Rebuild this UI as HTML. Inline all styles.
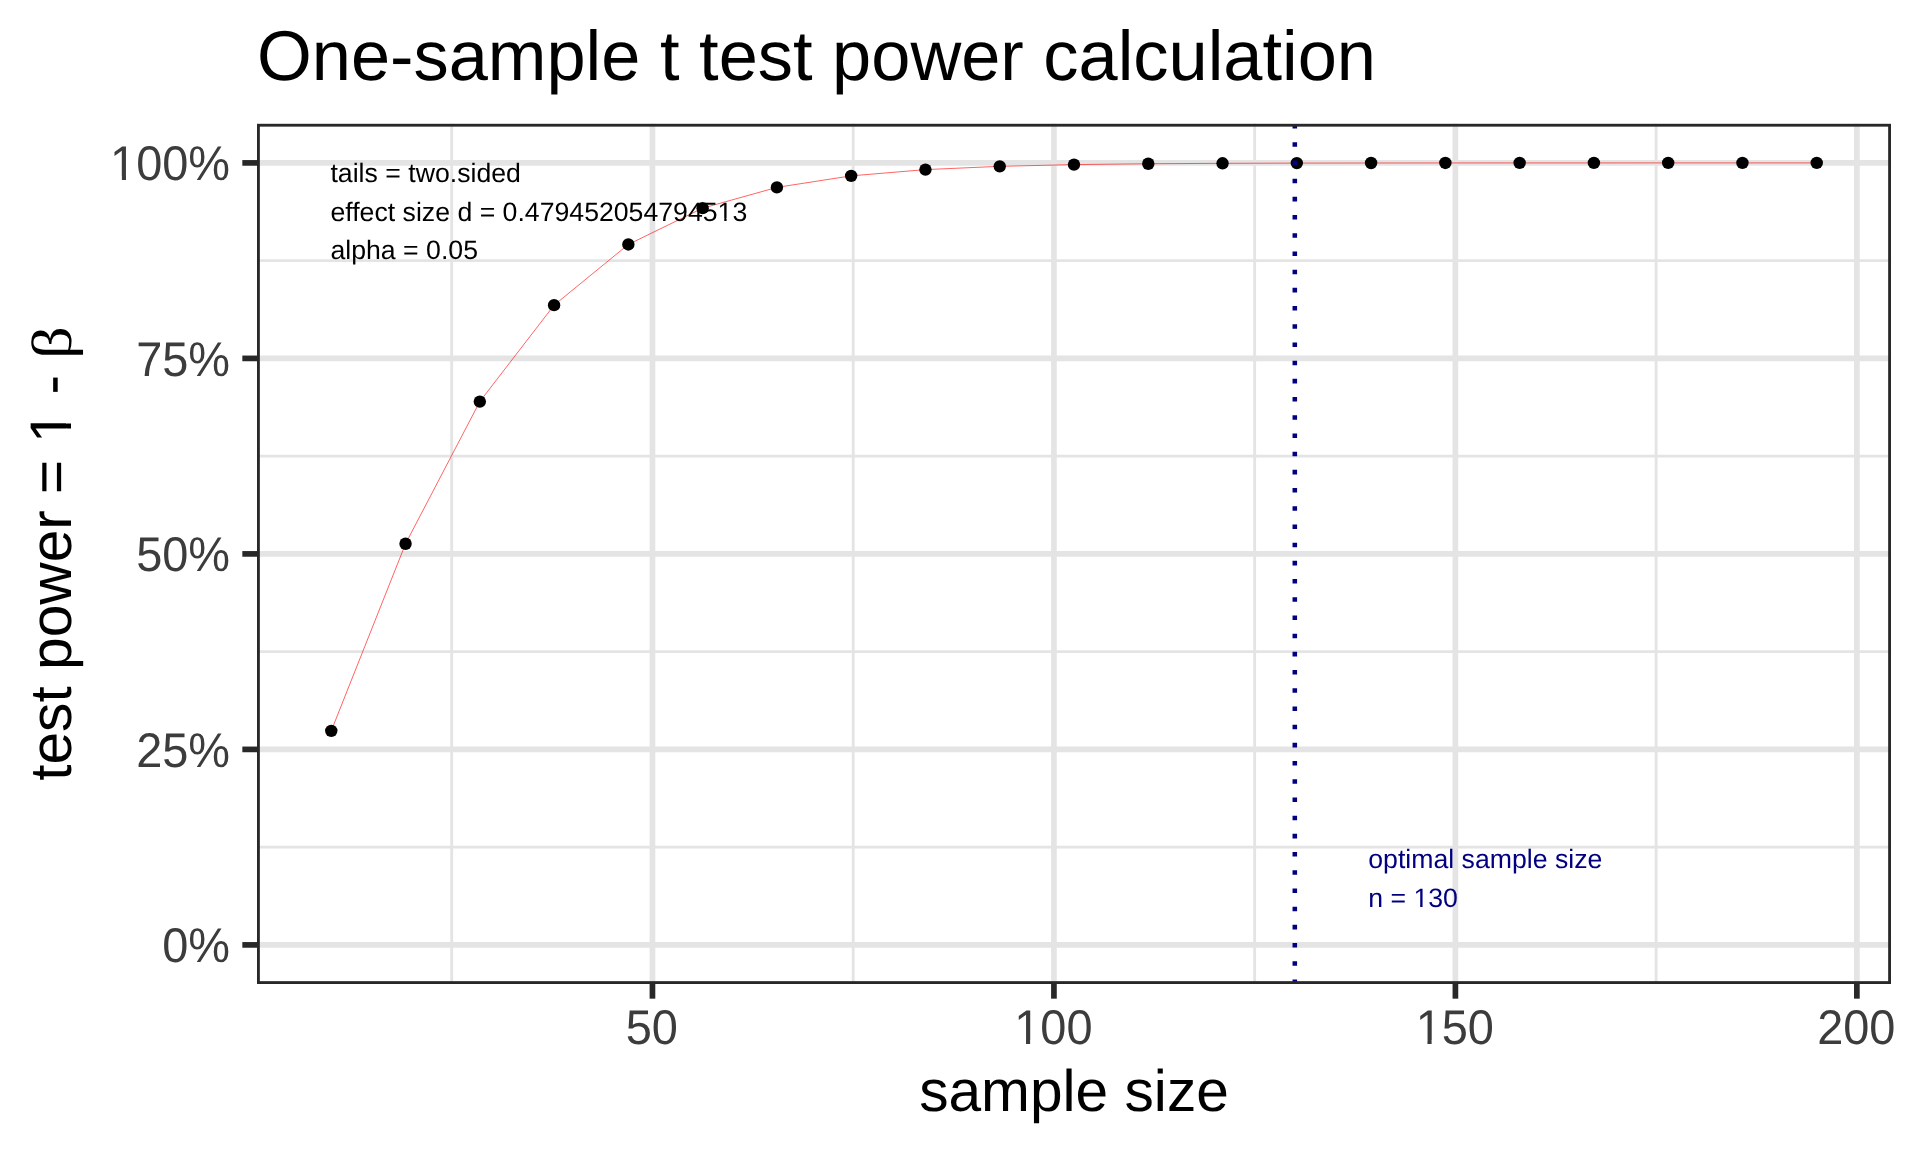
<!DOCTYPE html>
<html><head><meta charset="utf-8"><title>One-sample t test power calculation</title>
<style>
html,body{margin:0;padding:0;background:#fff;width:1920px;height:1152px;overflow:hidden}
svg{display:block;will-change:transform}
text{font-family:"Liberation Sans",Arial,sans-serif;text-rendering:geometricPrecision}
</style></head>
<body>
<svg width="1920" height="1152" viewBox="0 0 1920 1152">
<defs><clipPath id="c-a1" clipPathUnits="userSpaceOnUse"><path clip-rule="evenodd" d="M-5000,-5000H5000V5000H-5000ZM718.280,218.000H724.255V222.100H718.280ZM726.612,218.000H732.378V222.100H726.612Z"/></clipPath><clipPath id="c-b1" clipPathUnits="userSpaceOnUse"><path clip-rule="evenodd" d="M-5000,-5000H5000V5000H-5000ZM1414.215,905.000H1420.190V908.560H1414.215ZM1422.547,905.000H1428.313V908.560H1422.547Z"/></clipPath><clipPath id="c-y100" clipPathUnits="userSpaceOnUse"><path clip-rule="evenodd" d="M-5000,-5000H5000V5000H-5000ZM-117.741,-3.961H-108.214V1.500H-117.741ZM-104.067,-3.961H-94.907V1.500H-104.067Z"/></clipPath><clipPath id="c-x100" clipPathUnits="userSpaceOnUse"><path clip-rule="evenodd" d="M-5000,-5000H5000V5000H-5000ZM-36.874,-3.865H-27.347V1.500H-36.874ZM-23.200,-3.865H-14.040V1.500H-23.200Z"/></clipPath><clipPath id="c-x150" clipPathUnits="userSpaceOnUse"><path clip-rule="evenodd" d="M-5000,-5000H5000V5000H-5000ZM-36.874,-3.865H-27.347V1.500H-36.874ZM-23.200,-3.865H-14.040V1.500H-23.200Z"/></clipPath><clipPath id="c-yt" clipPathUnits="userSpaceOnUse"><path clip-rule="evenodd" d="M-5000,-5000H5000V5000H-5000ZM340.607,-4.700H352.191V1.500H340.607ZM357.376,-4.700H368.502V1.500H357.376Z"/></clipPath></defs>
<rect x="0" y="0" width="1920" height="1152" fill="#ffffff"/>
<line x1="257.0" x2="1891.0" y1="847.15" y2="847.15" stroke="#E4E4E4" stroke-width="2.845"/>
<line x1="257.0" x2="1891.0" y1="651.65" y2="651.65" stroke="#E4E4E4" stroke-width="2.845"/>
<line x1="257.0" x2="1891.0" y1="456.15" y2="456.15" stroke="#E4E4E4" stroke-width="2.845"/>
<line x1="257.0" x2="1891.0" y1="260.65" y2="260.65" stroke="#E4E4E4" stroke-width="2.845"/>
<line x1="451.71" x2="451.71" y1="123.8" y2="984.0" stroke="#E4E4E4" stroke-width="2.845"/>
<line x1="853.19" x2="853.19" y1="123.8" y2="984.0" stroke="#E4E4E4" stroke-width="2.845"/>
<line x1="1254.66" x2="1254.66" y1="123.8" y2="984.0" stroke="#E4E4E4" stroke-width="2.845"/>
<line x1="1656.14" x2="1656.14" y1="123.8" y2="984.0" stroke="#E4E4E4" stroke-width="2.845"/>
<line x1="257.0" x2="1891.0" y1="944.90" y2="944.90" stroke="#E4E4E4" stroke-width="5.690"/>
<line x1="257.0" x2="1891.0" y1="749.40" y2="749.40" stroke="#E4E4E4" stroke-width="5.690"/>
<line x1="257.0" x2="1891.0" y1="553.90" y2="553.90" stroke="#E4E4E4" stroke-width="5.690"/>
<line x1="257.0" x2="1891.0" y1="358.40" y2="358.40" stroke="#E4E4E4" stroke-width="5.690"/>
<line x1="257.0" x2="1891.0" y1="162.90" y2="162.90" stroke="#E4E4E4" stroke-width="5.690"/>
<line x1="652.45" x2="652.45" y1="123.8" y2="984.0" stroke="#E4E4E4" stroke-width="5.690"/>
<line x1="1053.93" x2="1053.93" y1="123.8" y2="984.0" stroke="#E4E4E4" stroke-width="5.690"/>
<line x1="1455.40" x2="1455.40" y1="123.8" y2="984.0" stroke="#E4E4E4" stroke-width="5.690"/>
<line x1="1856.87" x2="1856.87" y1="123.8" y2="984.0" stroke="#E4E4E4" stroke-width="5.690"/>
<polyline points="331.27,730.86 405.55,543.75 479.82,401.58 554.09,305.16 628.36,244.43 702.64,208.17 776.91,187.38 851.18,175.85 925.45,169.62 999.73,166.33 1074.00,164.62 1148.27,163.75 1222.55,163.32 1296.82,163.10 1371.09,163.00 1445.36,162.95 1519.64,162.92 1593.91,162.91 1668.18,162.90 1742.45,162.90 1816.73,162.90" fill="none" stroke="#FF0000" stroke-opacity="0.68" stroke-width="0.9" stroke-linejoin="round"/>
<circle cx="331.27" cy="730.86" r="6.2" fill="#000"/>
<circle cx="405.55" cy="543.75" r="6.2" fill="#000"/>
<circle cx="479.82" cy="401.58" r="6.2" fill="#000"/>
<circle cx="554.09" cy="305.16" r="6.2" fill="#000"/>
<circle cx="628.36" cy="244.43" r="6.2" fill="#000"/>
<circle cx="702.64" cy="208.17" r="6.2" fill="#000"/>
<circle cx="776.91" cy="187.38" r="6.2" fill="#000"/>
<circle cx="851.18" cy="175.85" r="6.2" fill="#000"/>
<circle cx="925.45" cy="169.62" r="6.2" fill="#000"/>
<circle cx="999.73" cy="166.33" r="6.2" fill="#000"/>
<circle cx="1074.00" cy="164.62" r="6.2" fill="#000"/>
<circle cx="1148.27" cy="163.75" r="6.2" fill="#000"/>
<circle cx="1222.55" cy="163.32" r="6.2" fill="#000"/>
<circle cx="1296.82" cy="163.10" r="6.2" fill="#000"/>
<circle cx="1371.09" cy="163.00" r="6.2" fill="#000"/>
<circle cx="1445.36" cy="162.95" r="6.2" fill="#000"/>
<circle cx="1519.64" cy="162.92" r="6.2" fill="#000"/>
<circle cx="1593.91" cy="162.91" r="6.2" fill="#000"/>
<circle cx="1668.18" cy="162.90" r="6.2" fill="#000"/>
<circle cx="1742.45" cy="162.90" r="6.2" fill="#000"/>
<circle cx="1816.73" cy="162.90" r="6.2" fill="#000"/>
<text x="330.47" y="181.5" font-size="26.67" fill="#000">tails = two.sided</text>
<text id="a1" x="330.47" y="220.6" font-size="26.67" fill="#000" clip-path="url(#c-a1)">effect size d = 0.479452054794513</text>
<text x="330.47" y="258.75" font-size="26.67" fill="#000">alpha = 0.05</text>
<text x="1368.28" y="868.4" font-size="26.67" fill="#000080">optimal sample size</text>
<text id="b1" x="1368.28" y="907.06" font-size="26.67" fill="#000080" clip-path="url(#c-b1)">n = 130</text>
<line x1="1294.81" x2="1294.81" y1="984.0" y2="123.8" stroke="#000080" stroke-width="4.55" stroke-dasharray="4.55 13.65"/>
<rect x="258.423" y="125.222" width="1631.155" height="857.355" fill="none" stroke="#282828" stroke-width="2.845"/>
<line x1="242.33" x2="257.0" y1="944.90" y2="944.90" stroke="#282828" stroke-width="5.690"/>
<line x1="242.33" x2="257.0" y1="749.40" y2="749.40" stroke="#282828" stroke-width="5.690"/>
<line x1="242.33" x2="257.0" y1="553.90" y2="553.90" stroke="#282828" stroke-width="5.690"/>
<line x1="242.33" x2="257.0" y1="358.40" y2="358.40" stroke="#282828" stroke-width="5.690"/>
<line x1="242.33" x2="257.0" y1="162.90" y2="162.90" stroke="#282828" stroke-width="5.690"/>
<line x1="652.45" x2="652.45" y1="984.0" y2="998.67" stroke="#282828" stroke-width="5.690"/>
<line x1="1053.93" x2="1053.93" y1="984.0" y2="998.67" stroke="#282828" stroke-width="5.690"/>
<line x1="1455.40" x2="1455.40" y1="984.0" y2="998.67" stroke="#282828" stroke-width="5.690"/>
<line x1="1856.87" x2="1856.87" y1="984.0" y2="998.67" stroke="#282828" stroke-width="5.690"/>
<text transform="translate(230.1 962.10) scale(1 1.035)" font-size="46.93" fill="#3C3C3C" text-anchor="end">0%</text>
<text transform="translate(230.1 766.60) scale(1 1.035)" font-size="46.93" fill="#3C3C3C" text-anchor="end">25%</text>
<text transform="translate(230.1 571.10) scale(1 1.035)" font-size="46.93" fill="#3C3C3C" text-anchor="end">50%</text>
<text transform="translate(230.1 375.60) scale(1 1.035)" font-size="46.93" fill="#3C3C3C" text-anchor="end">75%</text>
<text id="y100" transform="translate(230.1 180.10) scale(1 1.035)" font-size="46.93" fill="#3C3C3C" text-anchor="end" clip-path="url(#c-y100)">100%</text>
<text transform="translate(651.85 1044) scale(1 1.035)" font-size="46.93" fill="#3C3C3C" text-anchor="middle">50</text>
<text id="x100" transform="translate(1053.33 1044) scale(1 1.035)" font-size="46.93" fill="#3C3C3C" text-anchor="middle" clip-path="url(#c-x100)">100</text>
<text id="x150" transform="translate(1454.80 1044) scale(1 1.035)" font-size="46.93" fill="#3C3C3C" text-anchor="middle" clip-path="url(#c-x150)">150</text>
<text transform="translate(1856.27 1044) scale(1 1.035)" font-size="46.93" fill="#3C3C3C" text-anchor="middle">200</text>
<text x="1074.00" y="1110.6" font-size="58.67" fill="#000" text-anchor="middle">sample size</text>
<text id="yt" transform="translate(70.7 780.8) rotate(-90)" font-size="58.67" fill="#000" clip-path="url(#c-yt)">test power = 1 - </text>
<text transform="translate(70.7 358.9) rotate(-90) scale(1.14 1)" font-size="56.5" fill="#000" style="font-family:Liberation Serif,serif">β</text>
<text x="257.0" y="80" font-size="70.4" fill="#000">One-sample t test power calculation</text>
</svg>
</body></html>
